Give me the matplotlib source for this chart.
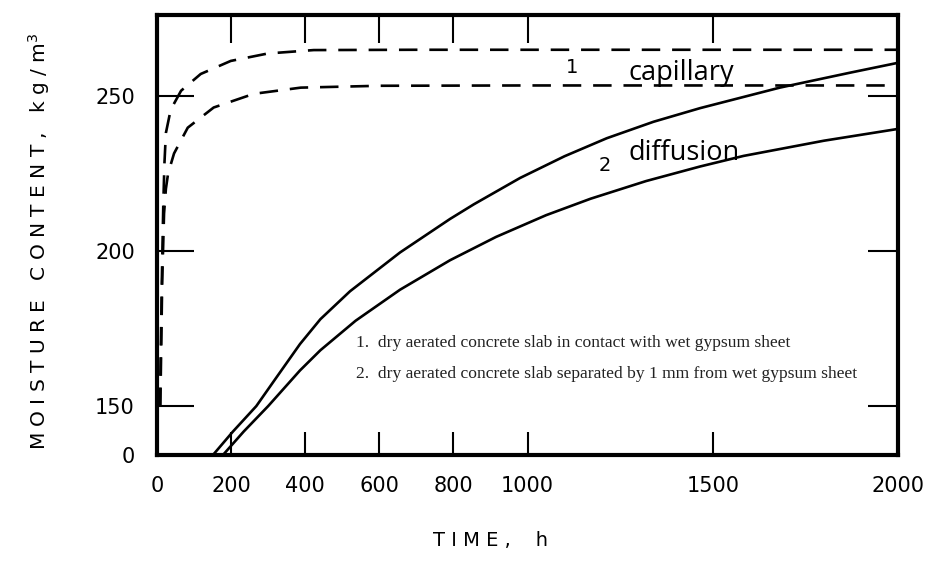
import numpy as np
import matplotlib
matplotlib.use("Agg")
import matplotlib.pyplot as plt

# ---- data ----
# capillary (dashed) curves, series 1
cap_a_t = [8, 13, 17, 20, 24, 37, 65, 118, 199, 299, 423, 700, 1000, 1500, 2000]
cap_a_v = [150, 190, 215, 228, 238, 245.5, 251.6, 257, 261.2, 263.6, 264.7, 264.8, 264.8, 264.8, 264.8]
cap_b_t = [9, 14, 19, 24, 30, 46, 83, 153, 261, 388, 600, 1000, 1500, 2000]
cap_b_v = [150, 190, 212, 220, 225, 231.4, 239.7, 246.2, 250.6, 252.6, 253.2, 253.3, 253.3, 253.3]
# diffusion (solid) curves, series 2
dif_a_t = [151, 205, 268, 318, 386, 441, 521, 656, 791, 855, 980, 1100, 1214, 1340, 1466, 1681, 1870, 2000]
dif_a_v = [0, 72, 150, 158.5, 170, 178, 187, 199.5, 210.3, 215, 223.5, 230.5, 236.3, 241.6, 246, 252.6, 257.4, 260.6]
dif_b_t = [178, 234, 300, 386, 441, 536, 656, 791, 915, 1050, 1170, 1320, 1466, 1583, 1800, 2000]
dif_b_v = [0, 72, 150, 161.5, 168, 177.5, 187.5, 197, 204.5, 211.5, 216.8, 222.5, 227.2, 230.6, 235.5, 239.3]

x_ticks = [0, 200, 400, 600, 800, 1000, 1500, 2000]
y_ticks = [0, 150, 200, 250]
legend_lines = ["1.  dry aerated concrete slab in contact with wet gypsum sheet",
                "2.  dry aerated concrete slab separated by 1 mm from wet gypsum sheet"]

# broken y axis: below 150 the scale is compressed
K = 0.105
def fwd(v):
    v = np.asarray(v, dtype=float)
    return np.where(v >= 150, v, 150 - (150 - v) * K)
def inv(u):
    u = np.asarray(u, dtype=float)
    return np.where(u >= 150, u, 150 - (150 - u) / K)

YLIM = (0, 276.0)
XLIM = (0, 2000)

fig = plt.figure(figsize=(9.3, 5.69), dpi=100)
ax = fig.add_axes([157/930, (569-455)/569, (898-157)/930, (455-15)/569])
ax.set_yscale('function', functions=(fwd, inv))

dash = (0, (7, 4.5))
ax.plot(cap_a_t, cap_a_v, color='black', lw=1.9, ls=dash)
ax.plot(cap_b_t, cap_b_v, color='black', lw=1.9, ls=dash)
ax.plot(dif_a_t, dif_a_v, color='black', lw=1.9, solid_joinstyle='round')
ax.plot(dif_b_t, dif_b_v, color='black', lw=1.9, solid_joinstyle='round')

ax.set_xlim(*XLIM)
ax.set_ylim(*YLIM)
ax.set_xticks(x_ticks)
ax.set_xticklabels([str(t) for t in x_ticks])
ax.set_yticks(y_ticks)
ax.set_yticklabels([str(t) for t in y_ticks])
ax.minorticks_off()

for s in ax.spines.values():
    s.set_linewidth(3.0)
ax.tick_params(axis='x', which='major', direction='in', bottom=True, top=False,
               length=16.5, width=1.5, labelsize=15, pad=15)
ax.tick_params(axis='y', which='major', direction='in', left=True, right=False,
               length=26.5, width=1.5, labelsize=15, pad=16)

# top ticks (longer) via twin axis
axt = ax.twiny()
axt.set_xlim(*XLIM)
axt.set_xticks(x_ticks)
axt.tick_params(axis='x', direction='in', top=True, bottom=False, labeltop=False,
                length=20, width=1.5)
for s in axt.spines.values():
    s.set_visible(False)
# right ticks (shorter) via twin axis
axr = ax.twinx()
axr.set_yscale('function', functions=(fwd, inv))
axr.set_ylim(*YLIM)
axr.set_yticks(y_ticks)
axr.minorticks_off()
axr.tick_params(axis='y', direction='in', right=True, left=False, labelright=False,
                length=21.5, width=1.5)
for s in axr.spines.values():
    s.set_visible(False)

ax.set_ylabel("M O I S T U R E   C O N T E N T ,   k g / m$^{3}$", fontsize=14.5)
ax.yaxis.set_label_coords(-(157-52)/741, 0.485)
ax.set_xlabel("T I M E ,    h", fontsize=14)
ax.xaxis.set_label_coords((490-157)/741, -(531-455)/440)

ax.text(1121, 259, "1", fontsize=14, ha='center', va='center')
ax.text(1210, 227.6, "2", fontsize=14, ha='center', va='center')
ax.text(1273, 257.4, "capillary", fontsize=19.5, family='Open Sans', ha='left', va='center')
ax.text(1273, 231.7, "diffusion", fontsize=19.5, family='Open Sans', ha='left', va='center')

ax.text(0.269, (455-343)/440, legend_lines[0], transform=ax.transAxes, fontsize=12.6,
        family='Liberation Serif', color='#222222', ha='left', va='center')
ax.text(0.269, (455-374)/440, legend_lines[1], transform=ax.transAxes, fontsize=12.6,
        family='Liberation Serif', color='#222222', ha='left', va='center')

fig.savefig("out.png", dpi=100)
